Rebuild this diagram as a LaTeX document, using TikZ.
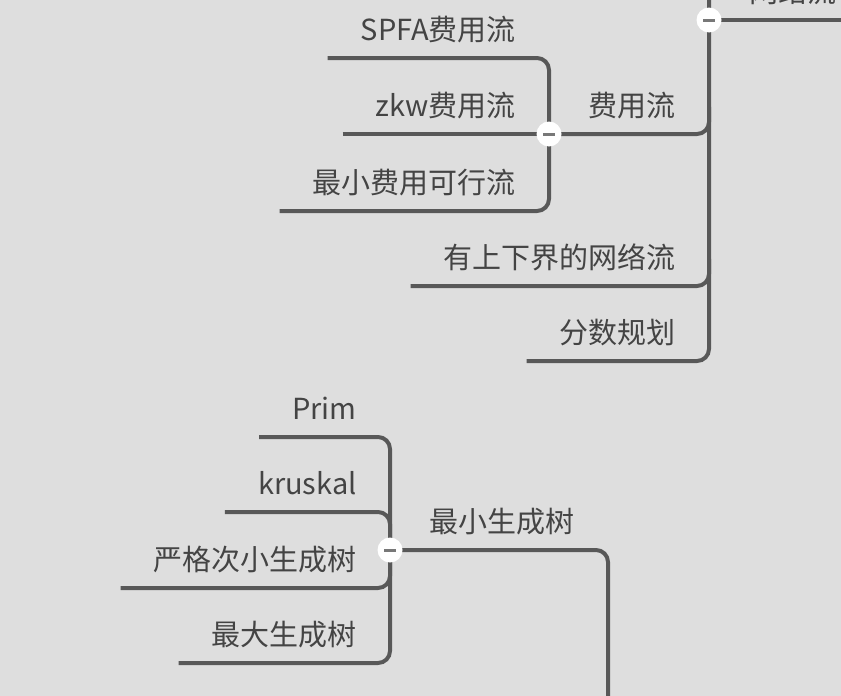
\documentclass[tikz,border=0pt]{standalone}
\usepackage{fontspec}
\setmainfont{Noto Sans CJK SC}
\definecolor{fondo}{RGB}{222,222,222}
\definecolor{linea}{RGB}{88,88,88}
\definecolor{texto}{RGB}{68,68,68}
\definecolor{menos}{RGB}{120,120,120}
\newcommand{\menos}{\textcolor{menos}{\rule[-1.5pt]{12pt}{3pt}}}
\begin{document}
\begin{tikzpicture}[x=1pt, y=-1pt,
		rama/.style={line width=4pt, draw=linea, rounded corners=12pt},
		hoja/.style={anchor=south east, inner xsep=33pt, inner ysep=0pt, minimum height=54pt,
			text height=25pt, text depth=5pt, text=texto, font=\fontsize{29}{32}\selectfont},
		plegar/.style={circle, fill=white, inner sep=0pt, minimum size=25pt}]
	\useasboundingbox (0,0) rectangle (841,696);
	\clip (0,0) rectangle (841,696);
	\fill[fondo] (0,0) rectangle (841,696);
	% Red de flujo
	\coordinate (netc) at (709,20);
	\coordinate (nettop) at (709,-20);
	\coordinate (feec) at (549,134);
	\node[hoja, anchor=south west] (net) at (716,20) {网络流};
	\node[hoja] (fee) at (709,134) {费用流};
	\node[hoja] (bounds) at (709,286) {有上下界的网络流};
	\node[hoja] (frac) at (709,361) {分数规划};
	\node[hoja] (spfa) at (549,58) {SPFA费用流};
	\node[hoja] (zkw) at (549,134) {zkw费用流};
	\node[hoja] (minfeas) at (549,211) {最小费用可行流};
	\draw[rama] (netc) -- (net.south east);
	\draw[rama] (nettop) -- (frac.south east) -- (frac.south west);
	\draw[rama] (feec) -- (fee.south east) -- (fee.east);
	\draw[rama] (bounds.south west) -- (bounds.south east) -- (bounds.east);
	\draw[rama] (spfa.south west) -- (spfa.south east) -- (minfeas.south east) -- (minfeas.south west);
	\draw[rama] (zkw.south west) -- (feec);
	\node[plegar] (netfold) at (netc) {\menos};
	\node[plegar] (feefold) at (feec) {\menos};
	% Arbol generador minimo
	\coordinate (mstc) at (390,550);
	\coordinate (mstbottom) at (608,720);
	\node[hoja] (mst) at (608,550) {最小生成树};
	\node[hoja] (prim) at (390,437) {Prim};
	\node[hoja] (kruskal) at (390,512) {kruskal};
	\node[hoja] (strict) at (390,588) {严格次小生成树};
	\node[hoja] (maxst) at (390,663) {最大生成树};
	\draw[rama] (mstc) -- (mst.south east) -- (mstbottom);
	\draw[rama] (prim.south west) -- (prim.south east) -- (maxst.south east) -- (maxst.south west);
	\draw[rama] (kruskal.south west) -- (kruskal.south east) -- (mstc);
	\draw[rama] (strict.south west) -- (strict.south east) -- (mstc);
	\node[plegar] (mstfold) at (mstc) {\menos};
\end{tikzpicture}
\end{document}
